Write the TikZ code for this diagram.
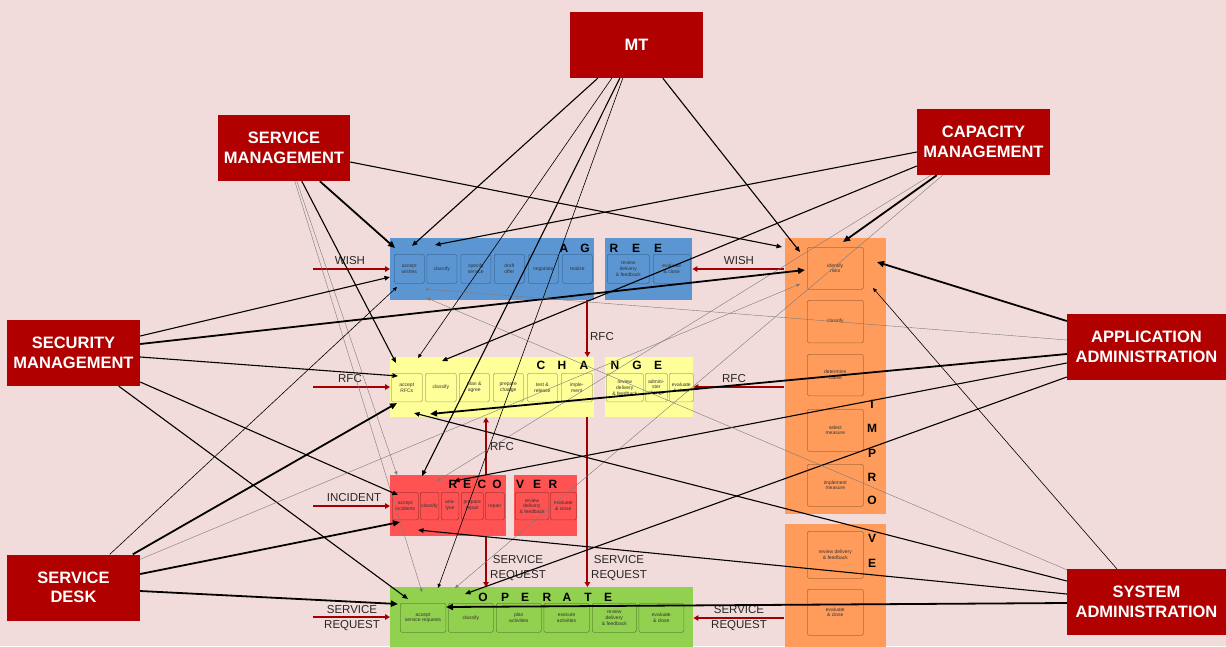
\documentclass[tikz,border=0pt]{standalone}
\usepackage{fontspec}
\setmainfont{Liberation Sans}
\usetikzlibrary{arrows.meta}

\definecolor{bgpink}{HTML}{F2DCDB}
\definecolor{boxred}{HTML}{B00000}
\definecolor{flowred}{HTML}{A00000}
\definecolor{agfill}{HTML}{5B96D3}
\definecolor{agline}{HTML}{3F6E9E}
\definecolor{chfill}{HTML}{FFFF99}
\definecolor{chline}{HTML}{B0B070}
\definecolor{rcfill}{HTML}{FF5353}
\definecolor{rcline}{HTML}{B03535}
\definecolor{opfill}{HTML}{92D050}
\definecolor{opline}{HTML}{5E8F2E}
\definecolor{imfill}{HTML}{FF9C5B}
\definecolor{imline}{HTML}{B06A3A}
\definecolor{thingray}{HTML}{7A7A7A}

\begin{document}
\begin{tikzpicture}[x=1pt,y=-1pt,
  role/.style={fill=boxred, text=white, font=\fontsize{16.5}{19.5}\selectfont\bfseries,
    align=center, inner sep=0pt, minimum height=66pt},
  band/.style={anchor=north west, inner sep=0pt, draw=none},
  task/.style={anchor=north west, inner sep=0pt, align=center, rounded corners=1.5pt,
    line width=0.6pt, font=\fontsize{5}{5.8}\selectfont, text=black!80},
  bigl/.style={font=\fontsize{12}{12}\selectfont\bfseries, inner sep=0pt},
  flow/.style={draw=flowred, line width=2pt, -{Triangle[length=5pt,width=5.5pt]}},
  flowlbl/.style={font=\fontsize{11.5}{13}\selectfont, text=black!85, inner sep=0pt},
  cthin/.style={draw=black, line width=0.6pt, -{Triangle[length=4pt,width=3.5pt]}},
  cmed/.style={draw=black, line width=1.1pt, -{Triangle[length=5.5pt,width=4.5pt]}},
  cthick/.style={draw=black, line width=1.8pt, -{Triangle[length=7pt,width=6pt]}},
  cgray/.style={draw=thingray, line width=0.4pt, -{Triangle[length=3.5pt,width=3pt]}}
]
\path[use as bounding box] (0,0) rectangle (1226,646);
\clip (0,0) rectangle (1226,646);
\fill[bgpink] (0,0) rectangle (1226,646);

% ---------- process bands ----------
\node[band, fill=agfill, minimum width=204pt, minimum height=62pt] (agL) at (390,238) {};
\node[band, fill=agfill, minimum width=87pt, minimum height=62pt] (agR) at (605,238) {};
\node[band, fill=chfill, minimum width=204pt, minimum height=60pt] (chL) at (390,357) {};
\node[band, fill=chfill, minimum width=88pt, minimum height=60pt] (chR) at (605,357) {};
\node[band, fill=rcfill, minimum width=116pt, minimum height=61pt] (rcL) at (390,475) {};
\node[band, fill=rcfill, minimum width=63pt, minimum height=61pt] (rcR) at (514,475) {};
\node[band, fill=opfill, minimum width=303pt, minimum height=75pt] (op) at (390,587) {};
\node[band, fill=imfill, minimum width=101pt, minimum height=276pt] (imA) at (785,238) {};
\node[band, fill=imfill, minimum width=101pt, minimum height=130pt] (imB) at (785,524) {};

% ---------- activity boxes ----------
\foreach \nm/\x/\w/\t in {
  ag1/394/30/{accept\\wishes}, ag2/426.5/30/{classify}, ag3/460.5/30/{specify\\service},
  ag4/494/30/{draft\\offer}, ag5/528/30/{negotiate}, ag6/562/30/{realize},
  ag7/607/42/{review\\delivery\\\& feedback}, ag8/653/37/{evaluate\\\& close}}
  \node[task, fill=agfill, draw=agline, minimum width=\w*1pt, minimum height=29pt] (\nm) at (\x,254) {\t};

\foreach \nm/\x/\w/\t in {
  ch1/391/31/{accept\\RFCs}, ch2/425/31/{classify}, ch3/459/30/{plan \&\\agree},
  ch4/493/30/{prepare\\change}, ch5/527/30/{test \&\\release}, ch6/561/31/{imple-\\ment},
  ch7/606/37/{review\\delivery\\\& feedback}, ch8/645/22/{admini-\\ster\\change},
  ch9/669/24/{evaluate\\\& close}}
  \node[task, fill=chfill, draw=chline, minimum width=\w*1pt, minimum height=28.5pt] (\nm) at (\x,373) {\t};

\foreach \nm/\x/\w/\t in {
  rc1/392/26/{accept\\incidents}, rc2/420/18.5/{classify}, rc3/441/17.5/{ana-\\lyse},
  rc4/461/22/{prepare\\repair}, rc5/485/19/{repair},
  rc6/515/33.5/{review\\delivery\\\& feedback}, rc7/550/26/{evaluate\\\& close}}
  \node[task, fill=rcfill, draw=rcline, minimum width=\w*1pt, minimum height=27.5pt] (\nm) at (\x,492) {\t};

\foreach \nm/\x/\w/\t in {
  op1/400/45.5/{accept\\service requests}, op2/448/45/{classify}, op3/496/45/{plan\\activities},
  op4/543.5/45.5/{execute\\activities}, op5/592/44/{review\\delivery\\\& feedback},
  op6/638.5/45/{evaluate\\\& close}}
  \node[task, fill=opfill, draw=opline, minimum width=\w*1pt, minimum height=29pt] (\nm) at (\x,603) {\t};

\foreach \nm/\y/\h/\t in {
  im1/247/42/{identify\\risks}, im2/300/42.5/{classify}, im3/354/41.5/{determine\\cause},
  im4/409/42/{select\\measure}, im5/464/42/{implement\\measure},
  im6/531/47/{review delivery\\\& feedback}, im7/589/46/{evaluate\\\& close}}
  \node[task, fill=imfill, draw=imline, minimum width=56pt, minimum height=\h*1pt] (\nm) at (807,\y) {\t};

% ---------- band lettering ----------
\foreach \c/\x [count=\i] in {A/564,G/585,R/614,E/636,E/658}
  \node[bigl] (lag\i) at (\x,248) {\c};
\foreach \c/\x [count=\i] in {C/541,H/562,A/584,N/615,G/637,E/658}
  \node[bigl] (lch\i) at (\x,365) {\c};
\foreach \c/\x [count=\i] in {R/453,E/467,C/482,O/497,V/520,E/537,R/553}
  \node[bigl] (lrc\i) at (\x,484) {\c};
\foreach \c/\x [count=\i] in {O/483,P/505,E/525,R/547,A/567,T/588,E/608}
  \node[bigl] (lop\i) at (\x,597) {\c};
\foreach \c/\y [count=\i] in {I/404,M/428,P/453,R/477,O/500,V/538,E/563}
  \node[bigl] (lim\i) at (872,\y) {\c};

% ---------- inflows ----------
\coordinate (inW) at (313,269);
\coordinate (inR) at (313,387);
\coordinate (inI) at (313,506);
\coordinate (inS) at (313,617);
\coordinate (fbW) at (784,269);
\coordinate (fbR) at (784,387);
\coordinate (fbS) at (784,618);
\draw[flow] (inW) -- (inW -| agL.west);
\draw[flow] (inR) -- (inR -| chL.west);
\draw[flow] (inI) -- (inI -| rcL.west);
\draw[flow] (inS) -- (inS -| op.west);
\draw[flow] (fbW) -- (fbW -| agR.east);
\draw[flow] (fbR) -- (fbR -| chR.east);
\draw[flow] (fbS) -- (fbS -| op.east);
\node[flowlbl] (tW1) at (350,261) {WISH};
\node[flowlbl] (tR1) at (350,379) {RFC};
\node[flowlbl] (tI1) at (354,498) {INCIDENT};
\node[flowlbl, align=center, font=\fontsize{11.5}{14.5}\selectfont] (tS1) at (352,618) {SERVICE\\REQUEST};
\node[flowlbl] (tW2) at (739,261) {WISH};
\node[flowlbl] (tR2) at (734,379) {RFC};
\node[flowlbl, align=center, font=\fontsize{11.5}{14.5}\selectfont] (tS2) at (739,618) {SERVICE\\REQUEST};

% hand-overs between bands
\coordinate (hA) at ([xshift=-7pt]agL.south east);
\coordinate (hC) at ([xshift=-7pt]chL.south east);
\coordinate (hRt) at ([xshift=96pt]rcL.north west);
\coordinate (hRb) at ([xshift=96pt]rcL.south west);
\draw[flow] (hA) -- (hA |- chL.north);
\draw[flow] (hC) -- (hC |- op.north);
\draw[flow] (hRt) -- (hRt |- chL.south);
\draw[flow] (hRb) -- (hRb |- op.north);
\node[flowlbl] (tR3) at (602,337) {RFC};
\node[flowlbl, align=center, font=\fontsize{11.5}{14.5}\selectfont] (tS3) at (619,568) {SERVICE\\REQUEST};
\node[flowlbl] (tR4) at (502,447) {RFC};
\node[flowlbl, align=center, font=\fontsize{11.5}{14.5}\selectfont] (tS4) at (518,568) {SERVICE\\REQUEST};

% ---------- roles ----------
\node[role, minimum width=133pt] (mt) at (636.5,45) {MT};
\node[role, minimum width=132pt] (sm) at (284,148) {SERVICE\\MANAGEMENT};
\node[role, minimum width=133pt] (cap) at (983.5,142) {CAPACITY\\MANAGEMENT};
\node[role, minimum width=133pt] (secm) at (73.5,353) {SECURITY\\MANAGEMENT};
\node[role, minimum width=133pt] (sd) at (73.5,587.5) {SERVICE\\DESK};
\node[role, minimum width=159pt] (app) at (1146.5,347) {APPLICATION\\ADMINISTRATION};
\node[role, minimum width=159pt] (sys) at (1146.5,602) {SYSTEM\\ADMINISTRATION};

% ---------- involvement of roles ----------
% MT
\draw[cmed]  ([shift={(28,0)}]mt.south west) -- ([shift={(22,8)}]agL.north west);
\draw[cthin] ([shift={(42,0)}]mt.south west) -- ([shift={(28,1)}]chL.north west);
\draw[cmed]  ([shift={(50,0)}]mt.south west) -- ([shift={(32,1)}]rcL.north west);
\draw[cthin] ([shift={(53,0)}]mt.south west) -- ([shift={(48,1)}]op.north west);
\draw[cmed]  ([shift={(93,0)}]mt.south west) -- ([shift={(15,14)}]imA.north west);
% service management
\draw[cmed]   ([shift={(0,14)}]sm.east) -- ([shift={(-3,9)}]imA.north west);
\draw[cthick] ([shift={(102,0)}]sm.south west) -- ([shift={(5,10)}]agL.north west);
\draw[cmed]   ([shift={(84,0)}]sm.south west) -- ([shift={(6,6)}]chL.north west);
\draw[cgray]  ([shift={(77,0)}]sm.south west) -- ([shift={(32,5)}]op.north west);
\draw[cgray]  ([shift={(79,0)}]sm.south west) -- ([shift={(7,0)}]rcL.north west);
% capacity management
\draw[cmed]   ([shift={(0,10)}]cap.west) -- ([shift={(45,7)}]agL.north west);
\draw[cmed]   ([shift={(0,24)}]cap.west) -- ([shift={(52,4)}]chL.north west);
\draw[cthick] ([shift={(20,0)}]cap.south west) -- ([shift={(58,4)}]imA.north west);
\draw[cgray]  ([shift={(14,0)}]cap.south west) -- ([shift={(47,6)}]rcL.north west);
\draw[cgray]  ([shift={(26,0)}]cap.south west) -- ([shift={(65,1)}]op.north west);
% security management
\draw[cmed]   ([shift={(0,-17)}]secm.east) -- ([shift={(0,39)}]agL.north west);
\draw[cthick] ([shift={(0,-9)}]secm.east) -- ([shift={(20,32)}]imA.north west);
\draw[cmed]   ([shift={(0,4)}]secm.east) -- ([shift={(8,19)}]chL.north west);
\draw[cmed]   ([shift={(0,29)}]secm.east) -- ([shift={(8,20)}]rcL.north west);
\draw[cmed]   ([shift={(112,0)}]secm.south west) -- ([shift={(18,12)}]op.north west);
% service desk
\draw[cthin]  ([shift={(103,0)}]sd.north west) -- ([shift={(7,49)}]agL.north west);
\draw[cthick] ([shift={(126,0)}]sd.north west) -- ([shift={(7,46)}]chL.north west);
\draw[cgray]  ([shift={(0,5)}]sd.north east) -- ([shift={(15,46)}]imA.north west);
\draw[cthick] ([shift={(0,-13.5)}]sd.east) -- ([shift={(10,47)}]rcL.north west);
\draw[cthick] ([shift={(0,3.5)}]sd.east) -- ([shift={(8,17)}]op.north west);
% application administration
\draw[cthick] ([shift={(0,-26)}]app.west) -- ([shift={(92,24)}]imA.north west);
\draw[cgray]  ([shift={(0,-7)}]app.west) -- ([shift={(35,51)}]agL.north west);
\draw[cthick] ([shift={(0,7)}]app.west) -- ([shift={(40,57)}]chL.north west);
\draw[cmed]   ([shift={(0,16)}]app.west) -- ([shift={(64,6)}]rcL.north west);
\draw[cmed]   ([shift={(0,30)}]app.west) -- ([shift={(75,7)}]op.north west);
% system administration
\draw[cthin]  ([shift={(50,0)}]sys.north west) -- ([shift={(88,50)}]imA.north west);
\draw[cgray]  ([shift={(0,1)}]sys.north west) -- ([shift={(37,60)}]agL.north west);
\draw[cmed]   ([shift={(0,-21)}]sys.west) -- ([shift={(24,56)}]chL.north west);
\draw[cmed]   ([shift={(0,-8)}]sys.west) -- ([shift={(28,55)}]rcL.north west);
\draw[cthick] ([shift={(0,1)}]sys.west) -- ([shift={(56,20)}]op.north west);
\end{tikzpicture}
\end{document}
